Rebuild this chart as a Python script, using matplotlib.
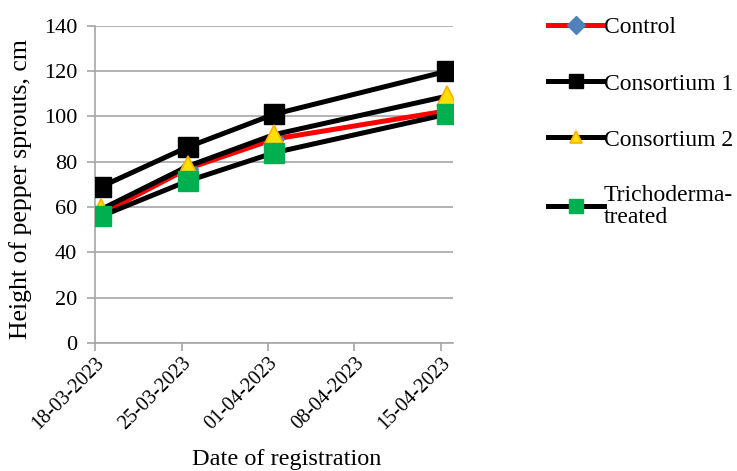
import matplotlib
matplotlib.use("Agg")
import matplotlib.pyplot as plt
import matplotlib.dates as mdates
import numpy as np
import datetime as dt

plt.rcParams['font.family'] = ['Liberation Serif', 'DejaVu Serif']

dates = ["2023-03-18", "2023-03-25", "2023-04-01", "2023-04-15"]
tick_dates = ["2023-03-18", "2023-03-25", "2023-04-01", "2023-04-08", "2023-04-15"]
control = [57, 77, 90, 102.5]
consortium1 = [69, 86.5, 101, 120]
consortium2 = [59, 78, 92, 109]
trichoderma = [56, 71.5, 84, 101]
labels = ["Control", "Consortium 1", "Consortium 2", "Trichoderma-\ntreated"]

x = [dt.datetime.strptime(d, "%Y-%m-%d") + dt.timedelta(hours=12) for d in dates]
xt = [dt.datetime.strptime(d, "%Y-%m-%d") for d in tick_dates]

fig = plt.figure(figsize=(7.37, 4.71), dpi=100)
ax = fig.add_axes([0.129, 0.272, 0.486, 0.673])

lw = 3.6
ax.plot(x, control, color='#FF0000', lw=lw, marker='D', ms=10, mfc='#4F81BD', mec='#4F81BD', label=labels[0], zorder=3)
ax.plot(x, consortium1, color='black', lw=lw, marker='s', ms=15, mfc='black', mec='black', label=labels[1], zorder=4)
ax.plot(x, consortium2, color='black', lw=lw, marker='^', ms=14, mfc='#FFE000', mec='#FFB000', mew=1.2, label=labels[2], zorder=5)
ax.plot(x, trichoderma, color='black', lw=lw, marker='s', ms=15, mfc='#00B050', mec='#00B050', label=labels[3], zorder=6)

ax.set_ylim(0, 140)
ax.set_yticks(np.arange(0, 141, 20))
ax.set_xlim(xt[0], xt[-1] + dt.timedelta(days=1))
ax.set_xticks(xt)
ax.xaxis.set_major_formatter(mdates.DateFormatter('%d-%m-%Y'))
for lab in ax.get_xticklabels():
    lab.set_rotation(45)
    lab.set_ha('right')
    lab.set_rotation_mode('anchor')

ax.grid(axis='y', color='#A6A6A6', lw=1.2)
ax.set_axisbelow(True)
for s in ['top', 'right']:
    ax.spines[s].set_visible(False)
for s in ['left', 'bottom']:
    ax.spines[s].set_color('#A6A6A6')
    ax.spines[s].set_linewidth(1.2)
ax.tick_params(axis='both', colors='#A6A6A6', labelcolor='black', length=6, width=1.2)
ax.tick_params(axis='y', labelsize=16, pad=7)
ax.tick_params(axis='x', labelsize=14.5, pad=2)

fig.text(21 / 737, 1 - 189 / 471, "Height of pepper sprouts, cm", fontsize=18.5,
         rotation=90, ha='center', va='center')
fig.text(287 / 737, 1 - 460 / 471, "Date of registration", fontsize=17.5, ha='center', va='center')

leg = ax.legend(loc='upper left', bbox_to_anchor=(0.723, 0.997), bbox_transform=fig.transFigure,
                frameon=False, fontsize=17, handlelength=2.35, handletextpad=0.0,
                labelspacing=1.47, borderpad=0.15)
msizes = [9, 9.5, 9, 9.5]
for h, m in zip(leg.legend_handles, msizes):
    h.set_markersize(m)
leg.get_texts()[3].set_linespacing(1.03)

fig.savefig("out.png", dpi=100)
